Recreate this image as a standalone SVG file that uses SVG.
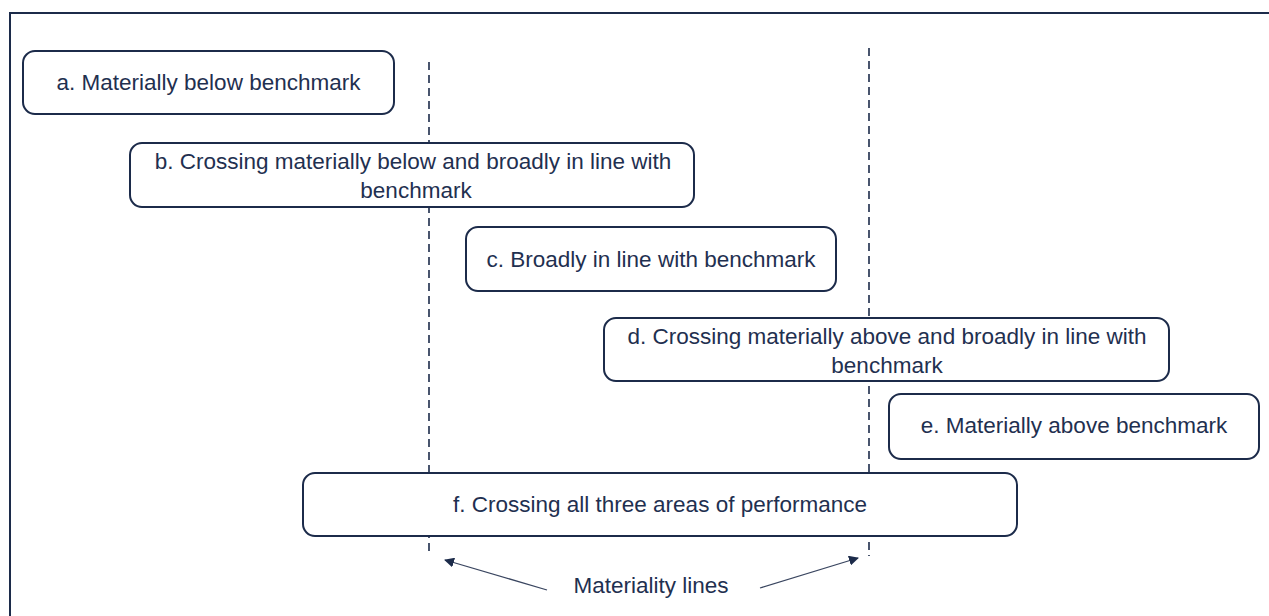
<svg xmlns="http://www.w3.org/2000/svg" width="1269" height="616" viewBox="0 0 1269 616">
<style>
.box{fill:#ffffff;stroke:#1c2b4a;stroke-width:2}
.t{font-family:"Liberation Sans",Arial,sans-serif;font-size:22.5px;fill:#1f3050;text-anchor:middle}
.dash{stroke:#1c2b4a;stroke-width:1.6;stroke-dasharray:8 5;fill:none}
.arr{stroke:#3a4660;stroke-width:1.3;fill:none;marker-end:url(#ah)}
</style>
<defs>
<marker id="ah" viewBox="0 0 10 10" refX="9" refY="5" markerWidth="10" markerHeight="10" markerUnits="userSpaceOnUse" orient="auto">
<path d="M0,0 L10,5 L0,10 z" fill="#1c2b4a"/>
</marker>
</defs>
<rect width="1269" height="616" fill="#ffffff"/>
<path d="M10,616 V13 H1269" fill="none" stroke="#1c2b4a" stroke-width="2"/>
<g id="connectors">
<line class="dash" x1="429" y1="62" x2="429" y2="556"/>
<line class="dash" x1="869" y1="48" x2="869" y2="556"/>
<line class="arr" x1="547" y1="590" x2="445" y2="560"/>
<line class="arr" x1="760" y1="588" x2="858" y2="558"/>
</g>
<g id="a"><rect class="box" x="23" y="51" width="371" height="63" rx="12"/><text class="t" x="208.5" y="90">a. Materially below benchmark</text></g>
<g id="b"><rect class="box" x="130" y="143" width="564" height="64" rx="12"/><text class="t" x="413" y="169">b. Crossing materially below and broadly in line with</text><text class="t" x="416" y="198">benchmark</text></g>
<g id="c"><rect class="box" x="466" y="227" width="370" height="64" rx="12"/><text class="t" x="651" y="267">c. Broadly in line with benchmark</text></g>
<g id="d"><rect class="box" x="604" y="318" width="565" height="63" rx="12"/><text class="t" x="887" y="344">d. Crossing materially above and broadly in line with</text><text class="t" x="887" y="373">benchmark</text></g>
<g id="e"><rect class="box" x="889" y="394" width="370" height="65" rx="12"/><text class="t" x="1074" y="433">e. Materially above benchmark</text></g>
<g id="f"><rect class="box" x="303" y="473" width="714" height="63" rx="12"/><text class="t" x="660" y="512">f. Crossing all three areas of performance</text></g>
<g id="label"><text class="t" x="651" y="593">Materiality lines</text></g>
</svg>
